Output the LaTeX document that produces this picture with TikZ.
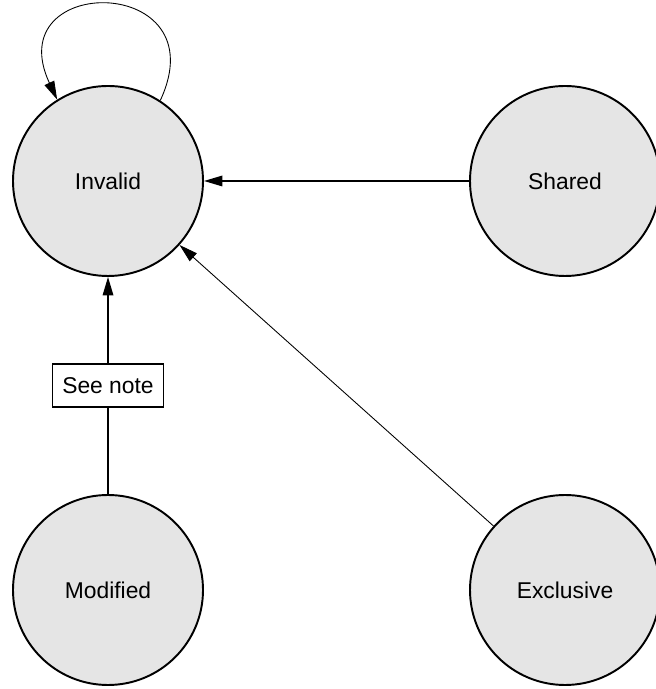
\documentclass[tikz,border=0pt]{standalone}
\usepackage{fontspec}
\setmainfont{Liberation Sans}
\usetikzlibrary{arrows.meta}
\definecolor{st}{RGB}{229, 229, 229}

\begin{document}
\begin{tikzpicture}[
        state/.style={circle, draw, fill=st, line width=1.1pt, minimum size=3.8cm, font=\fontsize{13}{15}\selectfont},
        edge/.style={line width=0.9pt, -{Triangle[length=10.5pt, width=6pt]}}]
        \useasboundingbox (0, 0) rectangle (13.1, 13.78);
        \node[state] (inv) at (2.16, 10.16) {Invalid};
        \node[state] (shr) at (11.3, 10.16) {Shared};
        \node[state] (mod) at (2.16, 1.98) {Modified};
        \node[state] (exc) at (11.3, 1.98) {Exclusive};
        \draw[edge] (shr) -- (inv);
        \draw[edge, line width=0.5pt] (exc) -- (inv);
        \draw[edge] (mod) -- node[draw, fill=white, line width=0.8pt, inner xsep=5.5pt, minimum height=0.86cm, font=\fontsize{13}{15}\selectfont] (note) {See note} (inv);
        \draw[edge, line width=0.5pt] (inv.57) .. controls +(65:2.8) and +(115:2.8) .. (inv.122);
    \end{tikzpicture}
\end{document}
